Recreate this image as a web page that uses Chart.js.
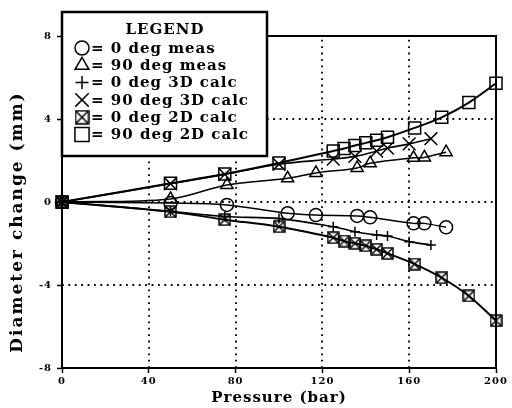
<!DOCTYPE html>
<html lang="en">
<head>
<meta charset="utf-8">
<title>Diameter change vs pressure</title>
<script src="https://cdn.jsdelivr.net/npm/chart.js@4.4.0/dist/chart.umd.min.js"></script>
<style>
  html, body { margin: 0; padding: 0; background: #fff; }
  #holder { width: 512px; height: 408px; }
</style>
</head>
<body>
<div id="holder"><canvas id="chart"></canvas></div>
<script>
// measured points (bar / mm)
const pressMeas = [0, 50, 76, 104, 117, 136, 142, 162, 167, 177];
const meas0 = [0, -0.05, -0.14, -0.54, -0.63, -0.67, -0.74, -1.03, -1.03, -1.22];
const meas90 = [0, 0.15, 0.82, 1.14, 1.40, 1.64, 1.87, 2.13, 2.15, 2.40];
// 3D calculation
const press3D = [0, 50, 75, 100, 125, 135, 145, 150, 160, 170];
const calc3D0 = [0, -0.45, -0.7, -0.8, -1.19, -1.43, -1.59, -1.64, -1.91, -2.07];
const calc3D90 = [0, 0.88, 1.33, 1.82, 2.07, 2.2, 2.45, 2.6, 2.8, 3.05];
// 2D calculation
const press2D = [0, 50, 75, 100, 125, 130, 135, 140, 145, 150, 162.5, 175, 187.5, 200];
const calc2D0 = [0, -0.47, -0.85, -1.19, -1.72, -1.88, -1.99, -2.11, -2.28, -2.47, -2.99, -3.65, -4.53, -5.72];
const calc2D90 = [0, 0.90, 1.35, 1.88, 2.46, 2.58, 2.72, 2.85, 2.98, 3.12, 3.57, 4.08, 4.79, 5.72];

const seriesLabels = ['0 deg meas', '90 deg meas', '0 deg 3D calc', '90 deg 3D calc', '0 deg 2D calc', '90 deg 2D calc'];
const xRange = [0, 200, 40];
const yRange = [-8, 8, 4];

const family = 'DejaVu Serif';

// square with an x inside, no such point style in chart.js
function boxCross(size) {
    var c = document.createElement('canvas');
    c.width = c.height = size;
    var g = c.getContext('2d');
    g.strokeStyle = '#000';
    g.lineWidth = 1.5;
    g.strokeRect(1, 1, size - 2, size - 2);
    g.beginPath();
    g.moveTo(1.5, 1.5); g.lineTo(size - 1.5, size - 1.5);
    g.moveTo(size - 1.5, 1.5); g.lineTo(1.5, size - 1.5);
    g.stroke();
    return c;
}
const boxSmall = boxCross(13);
const boxBig = boxCross(15);

function pts(xs, ys) {
    return xs.map((x, i) => ({x: x, y: ys[i]}));
}

function series(label, xs, ys, style, radius, width) {
    return {
        label: label,
        data: pts(xs, ys),
        borderColor: '#000',
        borderWidth: width,
        backgroundColor: 'rgba(0,0,0,0)',
        pointStyle: style,
        pointRadius: radius,
        pointBorderWidth: 1.5,
        pointBorderColor: '#000',
        pointBackgroundColor: 'rgba(0,0,0,0)',
        tension: 0.35,
        clip: false
    };
}

const datasets = [
    series(seriesLabels[0], pressMeas, meas0, 'circle', 6.5, 1.5),
    series(seriesLabels[1], pressMeas, meas90, 'triangle', 7, 1.5),
    series(seriesLabels[2], press3D, calc3D0, 'cross', 5, 1.6),
    series(seriesLabels[3], press3D, calc3D90, 'crossRot', 9, 1.6),
    series(seriesLabels[4], press2D, calc2D0, boxSmall, 6.5, 2),
    series(seriesLabels[5], press2D, calc2D90, 'rect', 8.5, 2)
];
// bigger symbols in the legend box
const legendSymbols = [
    {pointStyle: 'circle', radius: 7},
    {pointStyle: 'triangle', radius: 8},
    {pointStyle: 'cross', radius: 6.5},
    {pointStyle: 'crossRot', radius: 9.5},
    {pointStyle: boxBig, radius: 7.5},
    {pointStyle: 'rect', radius: 10}
];

const drawing = {
    id: 'drawing',
    beforeDraw(chart) {
        chart.ctx.letterSpacing = '1px';
    },
    beforeDatasetsDraw(chart) {
        const a = chart.chartArea;
        const ctx = chart.ctx;
        const xs = chart.scales.x, ys = chart.scales.y;
        ctx.save();
        // dotted grid
        ctx.strokeStyle = '#000';
        ctx.lineWidth = 1.8;
        ctx.setLineDash([1.8, 4.6]);
        ctx.beginPath();
        xs.ticks.forEach(t => {
            if (t.value <= xRange[0] || t.value >= xRange[1]) return;
            const px = Math.round(xs.getPixelForValue(t.value));
            ctx.moveTo(px, a.bottom);
            ctx.lineTo(px, a.top);
        });
        ys.ticks.forEach(t => {
            if (t.value <= yRange[0] || t.value >= yRange[1]) return;
            const py = Math.round(ys.getPixelForValue(t.value));
            ctx.moveTo(a.left, py);
            ctx.lineTo(a.right, py);
        });
        ctx.stroke();
        ctx.setLineDash([]);
        ctx.lineWidth = 2;
        ctx.strokeRect(a.left, a.top, a.right - a.left, a.bottom - a.top);
        ctx.restore();
    },
    afterDraw(chart) {
        const ctx = chart.ctx;
        ctx.save();
        // y title, sits a bit below the middle of the axis
        ctx.translate(18, 222);
        ctx.rotate(-Math.PI / 2);
        ctx.letterSpacing = '2px';
        ctx.font = 'bold 17px "' + family + '"';
        ctx.fillStyle = '#000';
        ctx.textAlign = 'center';
        ctx.textBaseline = 'middle';
        ctx.fillText('Diameter change (mm)', 0, 0);
        ctx.restore();

        // legend box
        ctx.save();
        ctx.letterSpacing = '1px';
        ctx.fillStyle = '#fff';
        ctx.fillRect(62, 12, 205, 144);
        ctx.strokeStyle = '#000';
        ctx.lineWidth = 2.5;
        ctx.strokeRect(62, 12, 205, 144);
        ctx.fillStyle = '#000';
        ctx.font = 'bold 15px "' + family + '"';
        ctx.textBaseline = 'middle';
        ctx.textAlign = 'center';
        ctx.fillText('LEGEND', 165, 30);
        ctx.textAlign = 'left';
        for (let i = 0; i < seriesLabels.length; i++) {
            const y = 48 + i * 17.3;
            ctx.save();
            ctx.strokeStyle = '#000';
            ctx.fillStyle = 'rgba(0,0,0,0)';
            ctx.lineWidth = 1.5;
            Chart.helpers.drawPoint(ctx, {
                pointStyle: legendSymbols[i].pointStyle,
                radius: legendSymbols[i].radius,
                rotation: 0,
                borderWidth: 1.5
            }, 82, y);
            ctx.restore();
            ctx.fillText('= ' + seriesLabels[i], 91, y + 1);
        }
        ctx.restore();
    }
};

new Chart(document.getElementById('chart'), {
    type: 'line',
    data: {datasets: datasets},
    options: {
        responsive: true,
        maintainAspectRatio: false,
        animation: false,
        layout: {padding: {left: 0, right: 16, top: 36, bottom: 0}},
        plugins: {
            legend: {display: false},
            tooltip: {enabled: false}
        },
        scales: {
            x: {
                type: 'linear',
                min: xRange[0],
                max: xRange[1],
                ticks: {
                    stepSize: xRange[2],
                    color: '#000',
                    padding: 2,
                    maxRotation: 0,
                    font: {family: family, size: 10, weight: 'bold'}
                },
                grid: {
                    drawOnChartArea: false,
                    tickLength: 5,
                    tickColor: '#000',
                    tickWidth: 1.5
                },
                border: {display: true, color: '#000', width: 2},
                title: {
                    display: true,
                    text: 'Pressure (bar)',
                    color: '#000',
                    padding: {top: 0, bottom: 1},
                    font: {family: family, size: 15, weight: 'bold'}
                },
                afterFit(s) { s.height = 40; }
            },
            y: {
                min: yRange[0],
                max: yRange[1],
                ticks: {
                    stepSize: yRange[2],
                    color: '#000',
                    padding: 5,
                    font: {family: family, size: 10, weight: 'bold'}
                },
                grid: {
                    drawOnChartArea: false,
                    tickLength: 5,
                    tickColor: '#000',
                    tickWidth: 1.5
                },
                border: {display: true, color: '#000', width: 2},
                afterFit(s) { s.width = 62; }
            }
        }
    },
    plugins: [drawing]
});
</script>
</body>
</html>
